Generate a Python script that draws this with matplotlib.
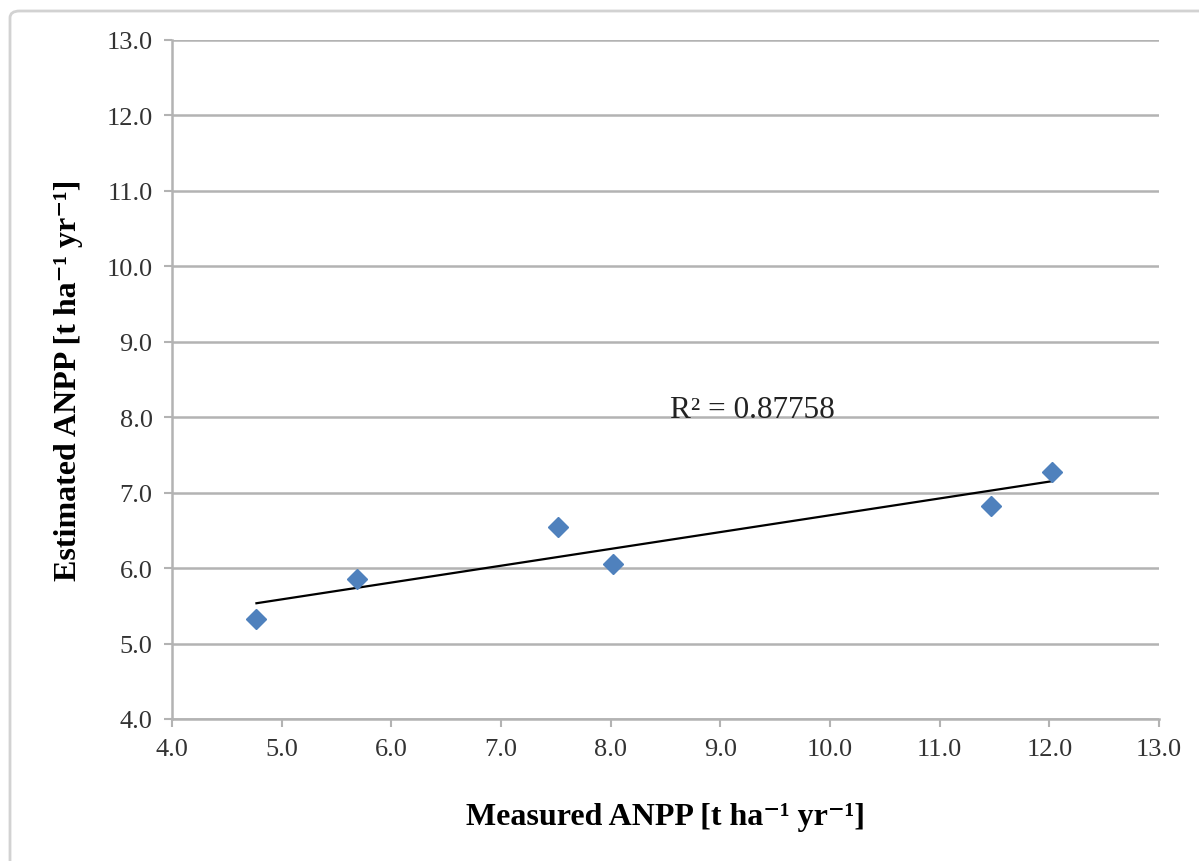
import matplotlib.pyplot as plt
import numpy as np
from matplotlib.patches import FancyBboxPatch

# Data ----------------------------------------------------------
measured  = [4.77, 5.69, 7.52, 8.02, 11.47, 12.02]   # x [t ha-1 yr-1]
estimated = [5.32, 5.85, 6.54, 6.06, 6.82, 7.27]     # y [t ha-1 yr-1]
r2_label  = "R² = 0.87758"
ticks     = [4.0, 5.0, 6.0, 7.0, 8.0, 9.0, 10.0, 11.0, 12.0, 13.0]

serif = ['Liberation Serif', 'DejaVu Serif']
grid_col = '#b3b3b3'

fig = plt.figure(figsize=(11.99, 8.62), dpi=100)

# light outer frame (chart area border) ---------------------------
W, H = 1199, 862
frame = FancyBboxPatch((10 / W, 1 - 900 / H), 1.2, 888 / H,
                       boxstyle='round,pad=0,rounding_size=0.008',
                       transform=fig.transFigure, facecolor='none',
                       edgecolor='#d2d2d2', linewidth=2.0, zorder=-1)
fig.patches.append(frame)

ax = fig.add_axes([172 / W, 1 - 720 / H, (1159 - 172) / W, (720 - 41) / H])
ax.set_facecolor('none')

# trend line (least squares through the points) -------------------
x = np.array(measured)
y = np.array(estimated)
slope, icpt = np.polyfit(x, y, 1)
xl = np.array([x.min(), x.max()])
ax.plot(xl, slope * xl + icpt, color='black', linewidth=1.6, zorder=3)

ax.plot(x, y, linestyle='none', marker='D', markersize=10.5,
        color='#4f81bd', markeredgecolor='#4f81bd', zorder=4)

ax.text(9.29, 8.0, r2_label, ha='center', va='baseline',
        fontsize=22.5, family=serif, color='#222222', zorder=5)

ax.set_xlim(4.0, 13.0)
ax.set_ylim(4.0, 13.0)
ax.set_xticks(ticks)
ax.set_yticks(ticks)
ax.set_xticklabels(['%.1f' % t for t in ticks], family=serif, fontsize=19, color='#333333')
ax.set_yticklabels(['%.1f' % t for t in ticks], family=serif, fontsize=19, color='#333333')

ax.yaxis.grid(True, color=grid_col, linewidth=1.8)
ax.set_axisbelow(True)
for s in ['top', 'right']:
    ax.spines[s].set_visible(False)
for s in ['left', 'bottom']:
    ax.spines[s].set_color(grid_col)
    ax.spines[s].set_linewidth(1.8)
ax.tick_params(direction='out', length=6, width=1.5, color=grid_col, pad=8)

ax.set_xlabel("Measured ANPP [t ha⁻¹ yr⁻¹]", family=serif, fontsize=23,
              fontweight='bold', labelpad=30)
ax.set_ylabel("Estimated ANPP [t ha⁻¹ yr⁻¹]", family=serif, fontsize=23,
              fontweight='bold', labelpad=17)

fig.savefig('out.png', dpi=100)
